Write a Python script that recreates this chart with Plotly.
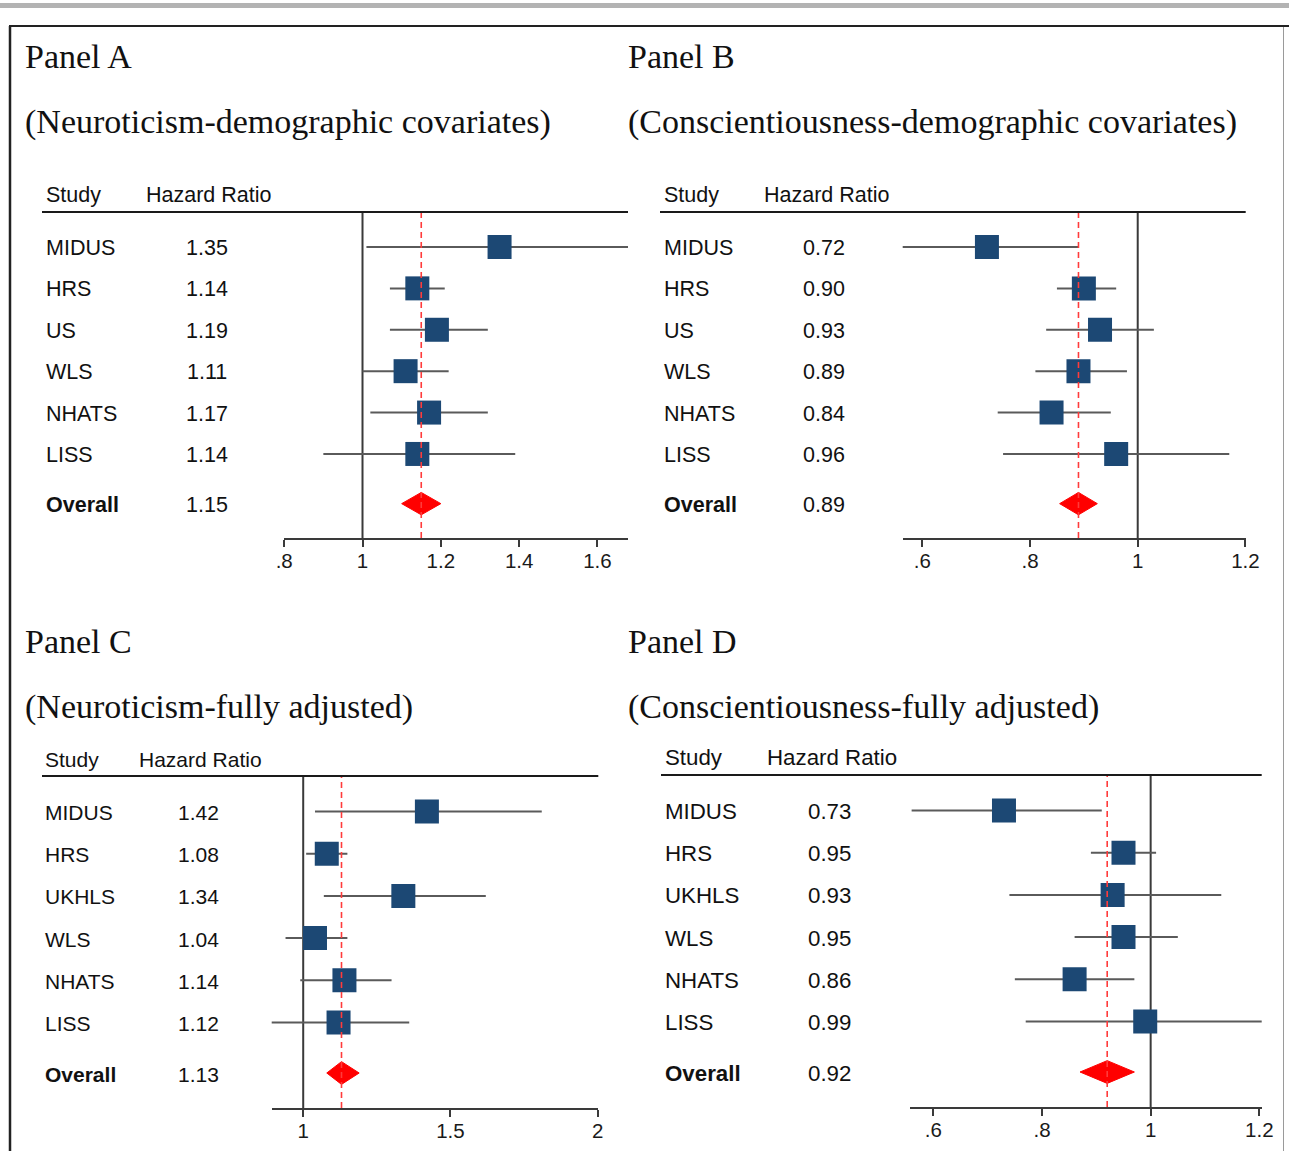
import plotly.graph_objects as go

W, H = 1289, 1151

# ---------------- data ----------------
panel_titles = ["Panel A", "Panel B", "Panel C", "Panel D"]
panel_subtitles = [
    "(Neuroticism-demographic covariates)",
    "(Conscientiousness-demographic covariates)",
    "(Neuroticism-fully adjusted)",
    "(Conscientiousness-fully adjusted)",
]

studies_A = ["MIDUS", "HRS", "US", "WLS", "NHATS", "LISS"]
hr_A = [1.35, 1.14, 1.19, 1.11, 1.17, 1.14]
lo_A = [1.01, 1.07, 1.07, 1.00, 1.02, 0.90]
hi_A = [1.68, 1.21, 1.32, 1.22, 1.32, 1.39]
overall_A = [1.15, 1.10, 1.20]          # HR, lower, upper

studies_B = ["MIDUS", "HRS", "US", "WLS", "NHATS", "LISS"]
hr_B = [0.72, 0.90, 0.93, 0.89, 0.84, 0.96]
lo_B = [0.56, 0.85, 0.83, 0.81, 0.74, 0.75]
hi_B = [0.89, 0.96, 1.03, 0.98, 0.95, 1.17]
overall_B = [0.89, 0.855, 0.925]

studies_C = ["MIDUS", "HRS", "UKHLS", "WLS", "NHATS", "LISS"]
hr_C = [1.42, 1.08, 1.34, 1.04, 1.14, 1.12]
lo_C = [1.04, 1.01, 1.07, 0.94, 0.99, 0.89]
hi_C = [1.81, 1.15, 1.62, 1.15, 1.30, 1.36]
overall_C = [1.13, 1.08, 1.19]

studies_D = ["MIDUS", "HRS", "UKHLS", "WLS", "NHATS", "LISS"]
hr_D = [0.73, 0.95, 0.93, 0.95, 0.86, 0.99]
lo_D = [0.56, 0.89, 0.74, 0.86, 0.75, 0.77]
hi_D = [0.91, 1.01, 1.13, 1.05, 0.97, 1.21]
overall_D = [0.92, 0.87, 0.97]

ticks_A = [0.8, 1.0, 1.2, 1.4, 1.6]
ticktext_A = [".8", "1", "1.2", "1.4", "1.6"]
ticks_B = [0.6, 0.8, 1.0, 1.2]
ticktext_B = [".6", ".8", "1", "1.2"]
ticks_C = [1.0, 1.5, 2.0]
ticktext_C = ["1", "1.5", "2"]
ticks_D = [0.6, 0.8, 1.0, 1.2]
ticktext_D = [".6", ".8", "1", "1.2"]

# ---------------- layout geometry (pixels) ----------------
panels = [
    dict(studies=studies_A, hr=hr_A, lo=lo_A, hi=hi_A, ov=overall_A, tv=ticks_A, tt=ticktext_A,
         x0=284, x1=628, yh=212, ya=538, rng=[0.7995, 1.678], sx=44, hx=207, hhx=144, hy=195,
         lx0=42, tx=23, ty=57, sty=122, fs=21.5),
    dict(studies=studies_B, hr=hr_B, lo=lo_B, hi=hi_B, ov=overall_B, tv=ticks_B, tt=ticktext_B,
         x0=902.7, x1=1245.7, yh=212, ya=538, rng=[0.5636, 1.2005], sx=662, hx=824, hhx=762, hy=195,
         lx0=660, tx=626, ty=57, sty=122, fs=21.5),
    dict(studies=studies_C, hr=hr_C, lo=lo_C, hi=hi_C, ov=overall_C, tv=ticks_C, tt=ticktext_C,
         x0=271.7, x1=598.3, yh=776, ya=1108, rng=[0.893, 2.002], sx=43, hx=198, hhx=137, hy=760,
         lx0=42, tx=23, ty=641, sty=707, fs=21),
    dict(studies=studies_D, hr=hr_D, lo=lo_D, hi=hi_D, ov=overall_D, tv=ticks_D, tt=ticktext_D,
         x0=910, x1=1261.7, yh=775, ya=1107, rng=[0.557, 1.2044], sx=663, hx=829, hhx=765, hy=757,
         lx0=661, tx=626, ty=641, sty=707, fs=22.3),
]

SANS = "Liberation Sans, Arial, sans-serif"
SERIF = "Liberation Serif, Times New Roman, serif"
SQ = "#1c4874"
RED = "#ff0000"
YR = [7.03, -0.845]   # y range in row units (reversed)


def px(x):
    return x / W


def py(y):
    return 1 - y / H


fig = go.Figure()
shapes = []
annotations = []
layout_axes = {}

for i, p in enumerate(panels):
    k = "" if i == 0 else str(i + 1)
    xa, ya_ = "x" + k, "y" + k
    n = len(p["studies"])
    rows = list(range(n))
    oy = n + 0.2
    ov_hr, ov_lo, ov_hi = p["ov"]

    # confidence intervals + squares
    fig.add_trace(go.Scatter(
        x=p["hr"], y=rows, xaxis=xa, yaxis=ya_, mode="markers",
        marker=dict(symbol="square", size=24, color=SQ, line=dict(width=0)),
        error_x=dict(type="data", symmetric=False,
                     array=[h - m for h, m in zip(p["hi"], p["hr"])],
                     arrayminus=[m - l for l, m in zip(p["lo"], p["hr"])],
                     color="#5a5a5a", thickness=2, width=0),
        hoverinfo="skip"))

    # overall diamond
    dh = 0.27
    fig.add_trace(go.Scatter(
        x=[ov_lo, ov_hr, ov_hi, ov_hr, ov_lo], y=[oy, oy - dh, oy, oy + dh, oy],
        xaxis=xa, yaxis=ya_, mode="lines", fill="toself", fillcolor=RED,
        line=dict(color=RED, width=1), hoverinfo="skip"))

    layout_axes["xaxis" + k] = dict(
        domain=[px(p["x0"]), px(p["x1"])], range=p["rng"], anchor=ya_, automargin=False,
        showgrid=False, zeroline=False, showline=True, linecolor="#3a3a3a", linewidth=1.5,
        ticks="outside", ticklen=7, tickwidth=1.5, tickcolor="#3a3a3a",
        tickvals=p["tv"], ticktext=p["tt"], ticklabelstandoff=-3,
        tickfont=dict(family=SANS, size=20.5, color="#1a1a1a"), fixedrange=True)
    layout_axes["yaxis" + k] = dict(
        domain=[py(p["ya"]), py(p["yh"])], range=YR, anchor=xa, visible=False, automargin=False,
        showgrid=False, zeroline=False, fixedrange=True)

    # reference line at HR = 1
    shapes.append(dict(type="line", xref=xa, yref=ya_ + " domain", x0=1, x1=1, y0=0, y1=1,
                       line=dict(color="#3a3a3a", width=2), layer="below"))
    # overall dashed line
    shapes.append(dict(type="line", xref=xa, yref=ya_ + " domain", x0=ov_hr, x1=ov_hr, y0=0, y1=1,
                       line=dict(color="#ff3b3b", width=1.6, dash="6px,4px"), layer="above"))
    # header rule
    shapes.append(dict(type="line", xref="paper", yref="paper", x0=px(p["lx0"]), x1=px(p["x1"]),
                       y0=py(p["yh"]), y1=py(p["yh"]), line=dict(color="#1a1a1a", width=2)))

    font = dict(family=SANS, size=p["fs"], color="#111")
    # header texts
    annotations.append(dict(text="Study", xref="paper", yref="paper", x=px(p["sx"]), y=py(p["hy"]),
                            xanchor="left", yanchor="middle", showarrow=False, font=font))
    annotations.append(dict(text="Hazard Ratio", xref="paper", yref="paper", x=px(p["hhx"]), y=py(p["hy"]),
                            xanchor="left", yanchor="middle", showarrow=False, font=font))
    # rows
    for r, (s, h) in enumerate(zip(p["studies"], p["hr"])):
        annotations.append(dict(text=s, xref="paper", yref=ya_, x=px(p["sx"]), y=r, yshift=-1,
                                xanchor="left", yanchor="middle", showarrow=False, font=font))
        annotations.append(dict(text="%.2f" % h, xref="paper", yref=ya_, x=px(p["hx"]), y=r, yshift=-1,
                                xanchor="center", yanchor="middle", showarrow=False, font=font))
    annotations.append(dict(text="<b>Overall</b>", xref="paper", yref=ya_, x=px(p["sx"]), y=oy, yshift=-1,
                            xanchor="left", yanchor="middle", showarrow=False, font=font))
    annotations.append(dict(text="%.2f" % ov_hr, xref="paper", yref=ya_, x=px(p["hx"]), y=oy, yshift=-1,
                            xanchor="center", yanchor="middle", showarrow=False, font=font))
    # panel titles
    tfont = dict(family=SERIF, size=34, color="#111")
    annotations.append(dict(text=panel_titles[i], xref="paper", yref="paper", x=px(p["tx"]), y=py(p["ty"]),
                            xanchor="left", yanchor="middle", showarrow=False, font=tfont))
    annotations.append(dict(text=panel_subtitles[i], xref="paper", yref="paper", x=px(p["tx"]), y=py(p["sty"]),
                            xanchor="left", yanchor="middle", showarrow=False, font=tfont))

# frame decorations
shapes.append(dict(type="rect", xref="paper", yref="paper", x0=0, x1=1, y0=py(8), y1=py(3),
                   fillcolor="#b3b3b3", line=dict(width=0)))
shapes.append(dict(type="line", xref="paper", yref="paper", x0=px(9), x1=1, y0=py(26), y1=py(26),
                   line=dict(color="#222", width=2.2)))
shapes.append(dict(type="line", xref="paper", yref="paper", x0=px(10), x1=px(10), y0=py(26), y1=0,
                   line=dict(color="#222", width=2.5)))
shapes.append(dict(type="line", xref="paper", yref="paper", x0=px(1283.5), x1=px(1283.5), y0=py(27), y1=0,
                   line=dict(color="#9a9a9a", width=1)))

fig.update_layout(
    width=W, height=H, margin=dict(l=0, r=0, t=0, b=0, pad=0, autoexpand=False), autosize=False,
    paper_bgcolor="white", plot_bgcolor="white", showlegend=False,
    shapes=shapes, annotations=annotations, hovermode=False,
    **layout_axes)

fig.write_html("out.html", config={"displayModeBar": False},
               post_script="document.body.style.margin='0';document.body.style.overflow='hidden';")
